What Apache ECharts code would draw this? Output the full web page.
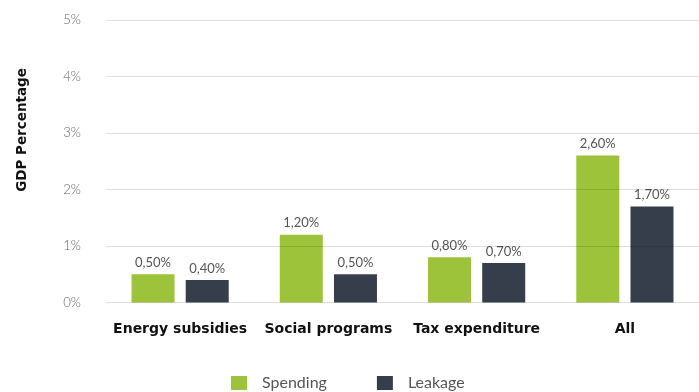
<!DOCTYPE html>
<html>
<head>
<meta charset="utf-8">
<script src="https://cdn.jsdelivr.net/npm/echarts@6/dist/echarts.min.js"></script>
<style>
  html, body { margin: 0; padding: 0; background: #fff; }
  #chart { width: 699px; height: 392px; }
</style>
</head>
<body>
<div id="chart"></div>
<script>
// Fiscal measures as a share of GDP
const categories = ['Energy subsidies', 'Social programs', 'Tax expenditure', 'All'];
const spending = [0.5, 1.2, 0.8, 2.6];
const leakage = [0.4, 0.5, 0.7, 1.7];
const yTicks = [0, 1, 2, 3, 4, 5];

const pct = v => v.toFixed(2).replace('.', ',') + '%';

const chart = echarts.init(document.getElementById('chart'));
chart.setOption({
  backgroundColor: '#ffffff',
  animation: false,
  textStyle: { fontFamily: 'Lato, "Open Sans", sans-serif' },
  grid: { left: 106, right: -10, top: 20, bottom: 89.5 },
  graphic: [{
    type: 'text',
    x: 22, y: 130,
    rotation: Math.PI / 2,
    style: {
      text: 'GDP Percentage',
      fill: '#111',
      font: 'bold 13.5px "DejaVu Sans", sans-serif',
      textAlign: 'center',
      textVerticalAlign: 'middle'
    }
  }],
  xAxis: {
    type: 'category',
    data: categories,
    axisLine: { show: false },
    axisTick: { show: false },
    axisLabel: {
      interval: 0,
      margin: 20,
      color: '#111',
      fontSize: 14,
      fontWeight: 'bold',
      fontFamily: '"DejaVu Sans", sans-serif'
    }
  },
  yAxis: {
    type: 'value',
    min: yTicks[0],
    max: yTicks[yTicks.length - 1],
    interval: 1,
    z: 5,
    axisLine: { show: false },
    axisTick: { show: false },
    axisLabel: {
      margin: 25,
      color: '#666',
      fontSize: 13,
      fontWeight: 300,
      formatter: v => v + '%'
    },
    splitLine: { lineStyle: { color: 'rgba(0,0,0,0.13)', width: 1 } }
  },
  legend: {
    top: 375,
    left: 231,
    padding: 0,
    icon: 'rect',
    itemWidth: 16,
    itemHeight: 14,
    itemGap: 50,
    textStyle: { color: '#555', fontSize: 16, padding: [0, 0, 0, 10] },
    data: ['Spending', 'Leakage']
  },
  series: [
    {
      name: 'Spending',
      type: 'bar',
      data: spending,
      barWidth: 43,
      barGap: '26%',
      itemStyle: { color: '#9DC33B' },
      label: {
        show: true, position: 'top', distance: 5,
        color: '#555', fontSize: 13,
        formatter: p => pct(p.value)
      }
    },
    {
      name: 'Leakage',
      type: 'bar',
      data: leakage,
      barWidth: 43,
      barGap: '26%',
      itemStyle: { color: '#373E4B' },
      label: {
        show: true, position: 'top', distance: 5,
        color: '#555', fontSize: 13,
        formatter: p => pct(p.value)
      }
    }
  ]
});
</script>
</body>
</html>
